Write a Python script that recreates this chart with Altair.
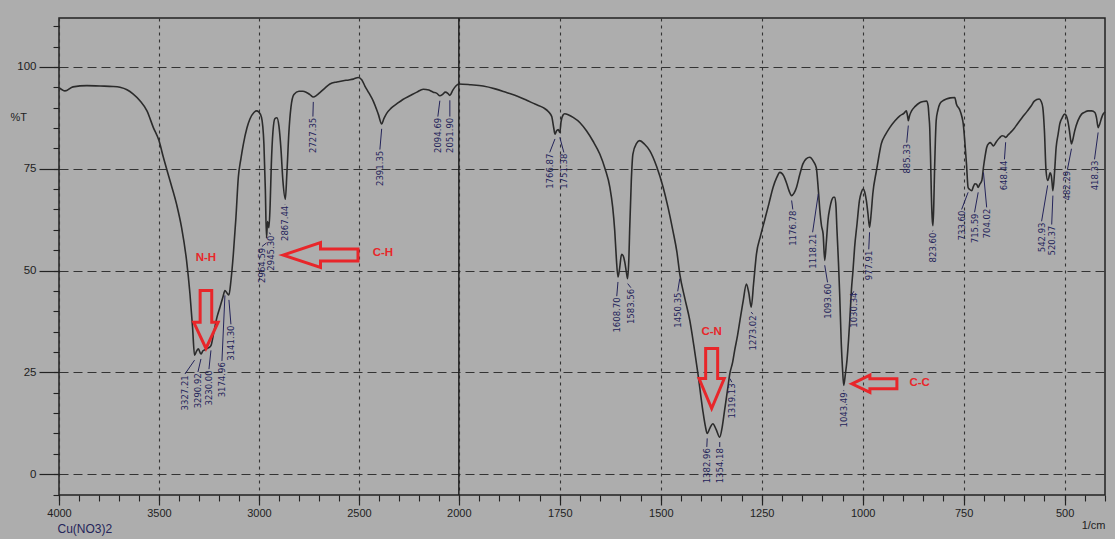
import altair as alt
import pandas as pd

R = 2.02  # horizontal scale factor below 2000 1/cm

# ---------------- spectrum (wavenumber 1/cm, %T) ----------------
wavenumber = [
    4000, 3970, 3930, 3860, 3795, 3730, 3695, 3660, 3630, 3595, 3560, 3528, 3500, 3478,
    3445, 3412, 3387, 3362, 3345, 3332, 3322, 3312, 3303, 3290, 3280, 3268, 3253, 3240,
    3225, 3210, 3195, 3180, 3170, 3160, 3150, 3140, 3128, 3115, 3103, 3090, 3078, 3060,
    3045, 3025, 3012, 3000, 2987, 2975, 2968, 2962, 2957, 2950, 2944, 2938, 2930, 2920,
    2910, 2900, 2890, 2880, 2868, 2860, 2850, 2840, 2825, 2800, 2780, 2762, 2745, 2728,
    2712, 2695, 2670, 2645, 2610, 2578, 2550, 2528, 2503, 2485, 2470, 2450, 2428, 2403,
    2386, 2375, 2361, 2340, 2311, 2280, 2245, 2210, 2178, 2150, 2128, 2110, 2095, 2080,
    2068, 2055, 2045, 2030, 2015, 2000, 1970, 1940, 1910, 1882, 1855, 1832, 1810, 1791,
    1778, 1770, 1765, 1762, 1758, 1754, 1750, 1747, 1742, 1738, 1728, 1717, 1700, 1684,
    1668, 1651, 1638, 1626, 1619, 1614, 1610, 1606, 1602, 1597, 1593, 1589, 1585, 1582,
    1579, 1577, 1573, 1569, 1560, 1552, 1540, 1527, 1510, 1494, 1482, 1470, 1460, 1453,
    1440, 1428, 1418, 1408, 1396, 1390, 1385, 1378, 1371, 1363, 1354, 1348, 1342, 1335,
    1329, 1322, 1317, 1310, 1304, 1296, 1288, 1282, 1276, 1270, 1263, 1253, 1243, 1232,
    1222, 1213, 1205, 1196, 1188, 1182, 1176, 1170, 1164, 1156, 1148, 1140, 1131, 1122,
    1115, 1110, 1106, 1102, 1098, 1094, 1090, 1086, 1081, 1077, 1072, 1069, 1066, 1064,
    1060, 1057, 1053, 1050, 1047, 1043, 1039, 1035, 1032, 1028, 1024, 1020, 1014, 1008,
    1003, 999, 995, 991, 987, 983, 979, 975, 966, 960, 954, 944, 933, 920,
    908, 898, 892, 889, 887, 884, 879, 870, 859, 850, 842, 838, 836, 834,
    832, 830, 828, 826, 824, 822, 820, 818, 814, 809, 801, 793, 783, 772,
    768, 760, 755, 751, 747, 743, 739, 735, 730, 726, 722, 718, 714, 710,
    705, 701, 697, 693, 688, 684, 680, 676, 671, 667, 661, 655, 650, 646,
    640, 634, 625, 617, 605, 592, 583, 575, 563, 558, 554, 550, 546, 542,
    539, 536, 533, 531, 529, 525, 521, 516, 512, 506, 500, 494, 488, 485,
    483, 480, 475, 467, 458, 450, 442, 433, 425, 421, 417, 413, 408, 404, 400,
]
transmittance = [
    94.9, 94.1, 95.1, 95.4, 95.3, 95.2, 95.0, 94.4, 93.4, 91.7, 89.2, 85.1, 81.9, 77.8,
    72.1, 66.3, 60.6, 52.5, 44.3, 36.1, 29.2, 30.2, 30.8, 29.5, 30.3, 30.6, 31.0, 31.6,
    35.0, 38.5, 41.0, 43.5, 45.1, 44.5, 44.0, 47.5, 54.0, 63.0, 72.9, 77.5, 81.0, 85.0,
    87.2, 88.8, 89.2, 88.9, 87.6, 81.0, 70.0, 58.0, 62.0, 60.5, 66.0, 76.0, 84.0, 87.3,
    87.5, 85.5, 80.0, 72.0, 67.5, 74.0, 84.0, 90.0, 93.2, 94.0, 94.0, 93.7, 93.2, 92.6,
    93.0, 93.7, 94.8, 95.8, 96.3, 96.6, 96.8, 97.0, 97.4, 96.8, 95.3, 93.6, 91.6, 88.4,
    86.0, 87.3, 88.6, 89.8, 90.9, 92.0, 92.9, 93.8, 94.5, 94.3, 93.8, 93.5, 92.9, 93.3,
    93.8, 93.5, 93.0, 94.3, 95.3, 95.8, 95.6, 95.3, 94.6, 93.7, 92.8, 91.8, 90.8, 90.0,
    89.0, 87.8, 85.0, 83.5, 84.3, 84.6, 83.9, 86.5, 88.2, 88.5, 88.2, 87.6, 86.3, 84.3,
    81.8, 78.6, 75.0, 70.4, 65.5, 59.8, 53.0, 48.4, 50.5, 54.0, 53.6, 52.0, 49.5, 48.0,
    53.0, 60.0, 72.0, 78.6, 81.2, 81.9, 81.0, 79.4, 75.5, 70.4, 65.5, 59.8, 54.5, 49.2,
    43.0, 37.7, 31.5, 24.7, 15.7, 12.0, 10.0, 11.4, 12.4, 11.0, 9.1, 11.5, 15.7, 20.5,
    24.7, 27.5, 30.4, 34.0, 37.7, 42.5, 46.7, 44.5, 41.0, 47.0, 54.1, 58.5, 62.3, 66.5,
    70.4, 72.8, 74.1, 73.3, 71.3, 69.5, 68.4, 69.0, 70.4, 73.5, 76.2, 77.4, 77.8, 76.8,
    75.3, 70.0, 64.7, 61.0, 59.0, 52.5, 57.0, 62.3, 65.5, 67.2, 68.0, 68.0, 65.5, 60.6,
    52.0, 44.3, 32.0, 26.0, 21.8, 24.5, 27.9, 33.0, 37.7, 45.1, 50.0, 55.7, 61.5, 67.2,
    69.3, 70.0, 69.3, 67.2, 64.0, 60.6, 64.0, 68.8, 74.5, 78.0, 81.1, 83.3, 85.1, 86.8,
    88.0, 88.6, 89.2, 88.0, 86.8, 88.0, 89.2, 90.3, 91.2, 91.5, 91.6, 90.5, 88.0, 85.1,
    78.0, 68.8, 63.0, 61.0, 66.0, 75.0, 82.0, 86.8, 89.3, 90.9, 91.7, 92.1, 92.4, 92.5,
    90.9, 89.5, 88.0, 86.0, 81.5, 76.2, 70.4, 69.9, 69.6, 70.6, 71.3, 71.2, 70.4, 71.2,
    72.1, 75.3, 78.0, 80.2, 81.2, 81.4, 81.0, 80.6, 81.3, 81.9, 82.6, 83.1, 83.0, 82.7,
    83.3, 83.9, 84.9, 86.0, 87.6, 89.2, 90.4, 91.6, 92.1, 91.5, 90.0, 84.3, 74.5, 72.1,
    72.8, 74.0, 73.3, 71.5, 69.6, 74.0, 80.2, 83.5, 86.0, 87.5, 88.4, 87.5, 84.3, 82.0,
    81.1, 82.0, 84.3, 86.8, 88.4, 88.9, 89.2, 89.2, 88.8, 87.5, 85.1, 86.0, 87.6, 88.5, 89.0,
]

# ---------------- peak labels ----------------
peak_text = [
    "3327.21", "3290.92", "3230.00", "3174.96", "3141.30", "2964.59", "2945.30", "2867.44",
    "2727.35", "2391.35", "2094.69", "2051.90", "1766.87", "1751.38", "1608.70", "1583.56",
    "1450.35", "1382.96", "1354.18", "1319.13", "1273.02", "1176.78", "1118.21", "1093.60",
    "1043.49", "1030.34", "977.91", "885.33", "823.60", "733.60", "715.59", "704.02",
    "648.44", "542.93", "520.37", "482.29", "418.33",
]
peak_at = [
    3322, 3290, 3240, 3170, 3150, 2962, 2950, 2868,
    2728, 2386, 2095, 2045, 1762, 1750, 1606, 1582,
    1453, 1385, 1354, 1329, 1276, 1176, 1110, 1094,
    1047, 1028, 983, 887, 826, 739, 714, 701,
    646, 542, 529, 483, 417,
]
peak_depth = [
    29.2, 29.5, 31.6, 45.1, 44.0, 58.0, 60.5, 67.5,
    92.6, 86.0, 92.9, 93.0, 83.5, 83.9, 48.4, 48.0,
    49.2, 10.0, 9.1, 24.7, 41.0, 68.4, 70.0, 52.5,
    21.8, 45.1, 60.6, 86.8, 61.0, 70.4, 70.4, 75.3,
    82.7, 72.1, 69.6, 81.1, 85.1,
]
label_at = [
    3370, 3305, 3250, 3185, 3140, 2985, 2940, 2870,
    2730, 2395, 2105, 2045, 1775, 1740, 1609, 1574,
    1458, 1386, 1354, 1324, 1272, 1173, 1124, 1087,
    1047, 1022, 985, 891, 827, 755, 723, 693,
    649, 557, 532, 493, 426,
]
label_top = [
    24.3, 24.8, 25.5, 27.5, 36.5, 55.6, 58.6, 65.9,
    87.5, 79.4, 87.5, 87.5, 78.7, 78.7, 43.4, 45.5,
    44.6, 6.4, 6.4, 22.3, 39.0, 64.7, 59.1, 46.8,
    20.1, 44.6, 54.9, 81.1, 59.3, 64.7, 64.0, 65.2,
    77.0, 61.8, 61.0, 74.5, 77.0,
]

# ---------------- band assignments ----------------
band_names = ["N-H", "C-H", "C-N", "C-C"]
band_name_at = [3265, 2380, 1374, 859]
band_name_T = [53.2, 54.2, 35.0, 22.5]
arrow_at = [3265, 2692, 1374, 971]
arrow_T = [38.0, 53.8, 23.5, 22.2]

# ---------------- axes ----------------
major_x = [0, 500, 1000, 1500, 2000] + [2000 + 250 * k * R for k in range(1, 7)]
minor_x = [100 * k for k in range(0, 21)] + [2000 + 50 * k * R for k in range(1, 33)]
major_y = [0, 25, 50, 75, 100]
minor_y = list(range(-5, 111, 5))


def pos_expr(f):
    return f"datum.{f} >= 2000 ? 4000 - datum.{f} : 2000 + (2000 - datum.{f}) * {R}"


label_expr = (
    "datum.value <= 2000.5 ? format(4000 - datum.value, 'd') : "
    f"format(round(2000 - (datum.value - 2000) / {R}), 'd')"
)

FONT = "Liberation Sans"
INK = "#222222"
RED = "#e8262a"
NAVY = "#24245a"

xs = alt.Scale(domain=[0, 5232], nice=False, zero=False)
ys = alt.Scale(domain=[-5.1, 112], nice=False, zero=False)

x_major_axis = alt.Axis(
    orient="bottom", values=major_x, labelExpr=label_expr, domain=False,
    tickSize=10, tickWidth=1.2, tickColor=INK, labelPadding=2, labelFont=FONT,
    labelFontSize=11, labelColor=INK, labelFlush=False, labelOverlap=False,
    grid=True, gridDash=[3, 4], gridColor="#333333", gridWidth=1.1,
    title="1/cm", titleFont=FONT, titleFontSize=11, titleFontWeight="normal",
    titleColor=INK, titleX=1046, titleY=30, titleAlign="right", titleBaseline="middle",
)
x_minor_axis = alt.Axis(
    orient="bottom", values=minor_x, labels=False, domain=False, grid=False,
    tickSize=6, tickWidth=1.1, tickColor=INK,
    title="Cu(NO3)2", titleFont=FONT, titleFontSize=12, titleFontWeight="normal",
    titleColor=NAVY, titleX=-2, titleY=33, titleAlign="left", titleBaseline="middle",
)
y_major_axis = alt.Axis(
    orient="left", values=major_y, domain=False, tickSize=20, tickWidth=1.2,
    tickColor=INK, labelPadding=3, labelFont=FONT, labelFontSize=11.5, labelColor=INK,
    grid=True, gridDash=[9, 5], gridColor="#333333", gridWidth=1.1,
    title="%T", titleFont=FONT, titleFontSize=11, titleFontWeight="normal",
    titleColor=INK, titleAngle=0, titleX=-49, titleY=99, titleAlign="left",
    titleBaseline="middle",
)
y_minor_axis = alt.Axis(
    orient="left", values=minor_y, labels=False, domain=False, grid=False,
    tickSize=6, tickWidth=1.1, tickColor=INK, title=None,
)

spec = pd.DataFrame({"wn": wavenumber, "T": transmittance})
peaks = pd.DataFrame({"txt": peak_text, "pwn": peak_at, "pT": peak_depth,
                      "lwn": label_at, "lT": label_top})
names = pd.DataFrame({"name": band_names, "wn": band_name_at, "T": band_name_T})

spectrum = alt.Chart(spec).transform_calculate(pos=pos_expr("wn")).mark_line(
    color="#2b2b2b", strokeWidth=1.6, interpolate="monotone"
).encode(
    x=alt.X("pos:Q", scale=xs, axis=x_major_axis),
    y=alt.Y("T:Q", scale=ys, axis=y_major_axis),
)

minor_holder = alt.Chart(spec).transform_calculate(pos=pos_expr("wn")).mark_line(
    opacity=0
).encode(
    x=alt.X("pos:Q", scale=xs, axis=x_minor_axis),
    y=alt.Y("T:Q", scale=ys, axis=y_minor_axis),
)

divider = alt.Chart(pd.DataFrame({"wn": [2000]})).transform_calculate(
    pos=pos_expr("wn")
).mark_rule(color=INK, strokeWidth=1.5).encode(
    x=alt.X("pos:Q", scale=xs, axis=None)
)

leaders = alt.Chart(peaks).transform_calculate(
    p1=pos_expr("pwn"), p2=pos_expr("lwn"), y1="datum.pT - 1.2", y2="datum.lT + 0.3"
).mark_rule(color=NAVY, strokeWidth=1).encode(
    x=alt.X("p1:Q", scale=xs, axis=None), x2="p2:Q",
    y=alt.Y("y1:Q", scale=ys, axis=None), y2="y2:Q",
)

peak_labels = alt.Chart(peaks).transform_calculate(p2=pos_expr("lwn")).mark_text(
    angle=270, align="right", baseline="middle", font="DejaVu Sans",
    fontSize=8.5, color=NAVY
).encode(
    x=alt.X("p2:Q", scale=xs, axis=None),
    y=alt.Y("lT:Q", scale=ys, axis=None),
    text="txt:N",
)

name_labels = alt.Chart(names).transform_calculate(pos=pos_expr("wn")).mark_text(
    align="center", baseline="middle", font=FONT, fontSize=11.5,
    fontWeight="bold", color=RED
).encode(
    x=alt.X("pos:Q", scale=xs, axis=None),
    y=alt.Y("T:Q", scale=ys, axis=None),
    text="name:N",
)

arrow_styles = [
    ("M -0.2 -1 L 0.2 -1 L 0.2 0.1 L 0.42 0.1 L 0 1 L -0.42 0.1 L -0.2 0.1 Z", 58 ** 2),
    ("M -1 0 L 0 -0.33 L 0 -0.16 L 1 -0.16 L 1 0.16 L 0 0.16 L 0 0.33 Z", 75 ** 2),
    ("M -0.2 -1 L 0.2 -1 L 0.2 0 L 0.42 0 L 0 1 L -0.42 0 L -0.2 0 Z", 60 ** 2),
    ("M -1 0 L -0.2 -0.38 L -0.2 -0.22 L 1 -0.22 L 1 0.22 L -0.2 0.22 L -0.2 0.38 Z", 45 ** 2),
]
arrows = []
for i, (path, size) in enumerate(arrow_styles):
    arrows.append(
        alt.Chart(pd.DataFrame({"wn": [arrow_at[i]], "T": [arrow_T[i]]}))
        .transform_calculate(pos=pos_expr("wn"))
        .mark_point(shape=path, size=size, filled=False, stroke=RED,
                    strokeWidth=3, opacity=1, strokeJoin="miter")
        .encode(
            x=alt.X("pos:Q", scale=xs, axis=None),
            y=alt.Y("T:Q", scale=ys, axis=None),
        )
    )

chart = alt.layer(
    spectrum, minor_holder, divider, leaders, peak_labels, name_labels, *arrows
).resolve_axis(
    x="independent", y="independent"
).properties(
    width=1046, height=477,
    padding={"left": 59, "top": 18, "right": 10, "bottom": 44},
    autosize=alt.AutoSizeParams(type="none"),
    background="#adadad",
).configure_view(
    stroke=INK, strokeWidth=1.5
)

chart.save("out.html", embed_options={"renderer": "svg", "actions": False})
